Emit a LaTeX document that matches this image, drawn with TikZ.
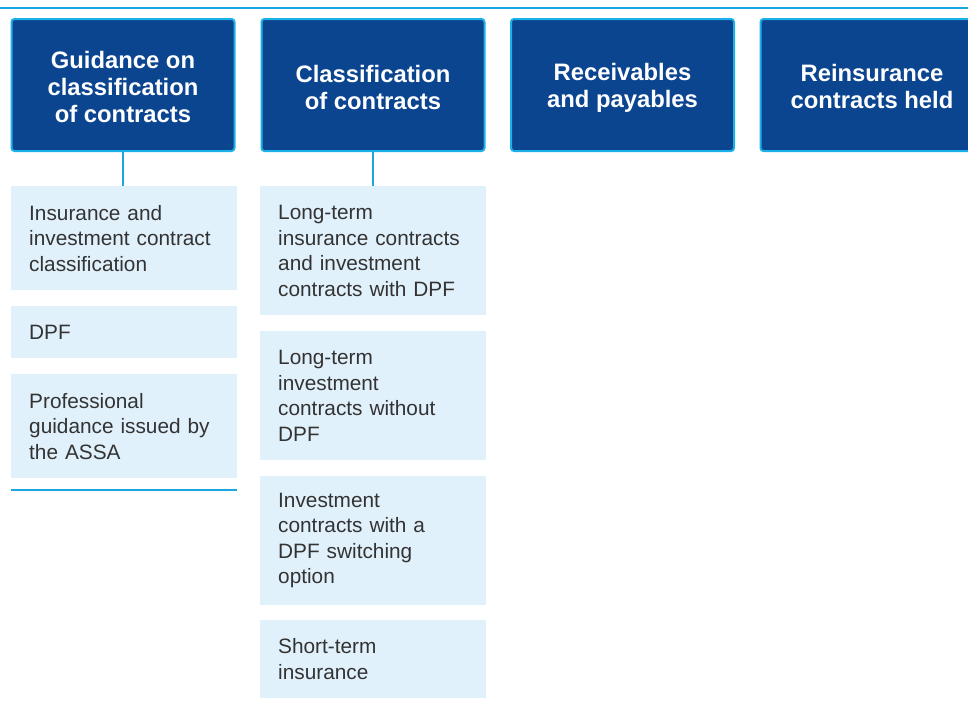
\documentclass[tikz,border=0pt]{standalone}
\usepackage{fontspec}
\setmainfont{Liberation Sans}
\definecolor{hdrfill}{HTML}{0B4590}
\definecolor{hdrline}{HTML}{1CB0E8}
\definecolor{subfill}{HTML}{E1F1FB}
\definecolor{rulecol}{HTML}{1AA7E0}
\definecolor{txt}{HTML}{333333}
\begin{document}
\begin{tikzpicture}[x=1pt,y=-1pt,
  hdr/.style={draw=hdrline,line width=2pt,fill=hdrfill,rounded corners=3pt,minimum width=223pt,minimum height=132pt,anchor=center,inner sep=0pt},
  hdrtxt/.style={inner sep=0pt,text=white,align=center,font=\fontsize{23.8}{27}\selectfont\bfseries},
  subbox/.style={fill=subfill,minimum width=226pt,anchor=north west,inner sep=0pt,draw=none},
  subtxt/.style={anchor=west,align=left,text width=215pt,inner sep=0pt,text=txt,font=\fontsize{20.8}{25.5}\selectfont},
  conn/.style={draw=rulecol,line width=1.2pt}]
\useasboundingbox (0,0) rectangle (968,704);
\clip (0,0) rectangle (968,704);
\draw[conn] (0,8) -- (968,8);
% headers
\node[hdr] (h1) at (123,85) {};
\node[hdrtxt] at ([yshift=-2pt]h1.center) {Guidance on\\classification\\of contracts};
\node[hdr] (h2) at (373,85) {};
\node[hdrtxt] at ([yshift=-2pt]h2.center) {Classification\\of contracts};
\node[hdr] (h3) at (622.5,85) {};
\node[hdrtxt] at ([yshift=-3pt]h3.center) {Receivables\\and payables};
\node[hdr] (h4) at (872,85) {};
\node[hdrtxt] at ([yshift=-1pt]h4.center) {Reinsurance\\contracts held};
% column 1
\node[subbox,minimum height=104pt] (a1) at (11,186) {};
\node[subtxt] at ([xshift=18pt]a1.west) {Insurance and\\investment contract\\classification};
\node[subbox,minimum height=52pt] (a2) at (11,306) {};
\node[subtxt] at ([xshift=18pt]a2.west) {DPF};
\node[subbox,minimum height=104pt] (a3) at (11,374) {};
\node[subtxt] at ([xshift=18pt]a3.west) {Professional\\guidance issued by\\the ASSA};
\coordinate (e1) at (11,490);
\coordinate (e2) at (237,490);
\draw[conn] (e1) -- (e2);
% column 2
\node[subbox,minimum height=129pt] (b1) at (260,186) {};
\node[subtxt] at ([xshift=18pt]b1.west) {Long-term\\insurance contracts\\and investment\\contracts with DPF};
\node[subbox,minimum height=129pt] (b2) at (260,331) {};
\node[subtxt] at ([xshift=18pt]b2.west) {Long-term\\investment\\contracts without\\DPF};
\node[subbox,minimum height=129pt] (b3) at (260,476) {};
\node[subtxt] at ([xshift=18pt]b3.west) {Investment\\contracts with a\\DPF switching\\option};
\node[subbox,minimum height=78pt] (b4) at (260,620) {};
\node[subtxt] at ([xshift=18pt]b4.west) {Short-term\\insurance};
% connectors
\draw[conn] (h1.south) -- (h1.south |- a1.north);
\draw[conn] (h2.south) -- (h2.south |- b1.north);
\end{tikzpicture}
\end{document}
